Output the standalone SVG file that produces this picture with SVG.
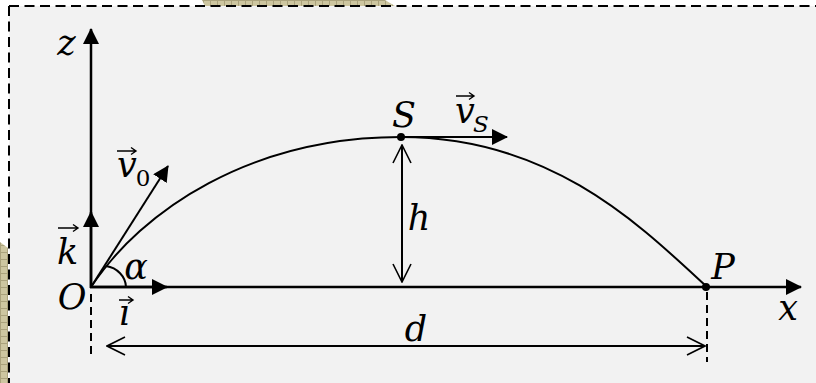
<svg xmlns="http://www.w3.org/2000/svg" width="816" height="383" viewBox="0 0 816 383">
<style>
  .t{font-family:"DejaVu Serif","Liberation Serif",serif;font-style:italic;font-size:35px;fill:#000;text-anchor:middle}
  .sub{font-size:23px}
  .up{font-style:normal}
  .ln{stroke:#000;fill:none;stroke-width:2}
  .ax{stroke:#000;fill:none;stroke-width:2.5}
  .dash{stroke:#000;fill:none;stroke-width:2;stroke-dasharray:8 5}
  .vec{stroke:#000;fill:none;stroke-width:1.4}
</style>
<defs>
  <pattern id="tan" width="7" height="7" patternUnits="userSpaceOnUse">
    <rect width="7" height="7" fill="#cdc6a0"/>
    <path d="M0,0.5H7M0.5,0V7" stroke="#aaa27c" stroke-width="1"/>
  </pattern>
  <marker id="fa" viewBox="0 0 16 16" refX="15" refY="8" markerWidth="16" markerHeight="16" markerUnits="userSpaceOnUse" orient="auto">
    <path d="M0,0 L16,8 L0,16 z" fill="#000"/>
  </marker>
  <marker id="oa" viewBox="0 0 20 20" refX="19" refY="10" markerWidth="20" markerHeight="20" markerUnits="userSpaceOnUse" orient="auto-start-reverse">
    <path d="M1,1 L19,10 L1,19" fill="none" stroke="#000" stroke-width="1.6"/>
  </marker>
</defs>
<rect width="816" height="383" fill="#fff"/>
<polygon points="202,0 385,0 395,6 205,6" fill="url(#tan)"/>
<polygon points="0,242 8,248 8,383 0,383" fill="url(#tan)"/>
<rect x="9" y="6" width="830" height="400" fill="#f2f2f2"/>
<path d="M9,6H816M9,6V383" stroke="#000" stroke-width="2" stroke-dasharray="10 5.5" fill="none"/>

<g id="connectors">
  <line id="z-axis" class="ax" x1="91" y1="288" x2="91" y2="29" marker-end="url(#fa)"/>
  <line id="x-axis" class="ax" x1="90" y1="287" x2="801" y2="287" marker-end="url(#fa)"/>
  <line id="k-vec" class="ax" x1="91" y1="288" x2="91" y2="212" marker-end="url(#fa)"/>
  <line id="i-vec" class="ax" x1="90" y1="287" x2="167" y2="287" marker-end="url(#fa)"/>
  <line id="v0-vec" class="ln" x1="91" y1="287" x2="168" y2="166" marker-end="url(#fa)"/>
  <line id="vS-vec" class="ln" x1="401" y1="137" x2="507" y2="137" marker-end="url(#fa)"/>
  <path id="trajectory" class="ln" d="M91,287 C142,210 251,137 401,137 C551,137 640,225 707,287"/>
  <path id="angle" class="ln" d="M126,287 A24 22 0 0 0 106,266"/>
  <line id="h-dim" class="ln" x1="402" y1="145" x2="402" y2="282" marker-start="url(#oa)" marker-end="url(#oa)" stroke-width="1.6"/>
  <line id="d-dim" class="ln" x1="107" y1="346" x2="705" y2="346" marker-start="url(#oa)" marker-end="url(#oa)" stroke-width="1.6"/>
  <line class="dash" x1="91" y1="294" x2="91" y2="356"/>
  <line class="dash" x1="707" y1="292" x2="707" y2="362"/>
</g>

<g id="S-node">
  <circle cx="401" cy="137" r="4"/>
  <text class="t" x="404" y="127">S</text>
</g>
<g id="P-node">
  <circle cx="706" cy="287" r="4"/>
  <text class="t" x="723" y="279">P</text>
</g>
<g id="O-node"><text class="t" x="72" y="309">O</text></g>
<g id="z-label"><text class="t" x="66.5" y="55">z</text></g>
<g id="x-label"><text class="t" x="788" y="320">x</text></g>
<g id="k-label">
  <text class="t" x="67.5" y="264">k</text>
  <path class="vec" d="M58,228H78M73,224.5L78,228L73,231.5"/>
</g>
<g id="i-label">
  <text class="t" x="124" y="325">ı</text>
  <path class="vec" d="M119,300H133M128,296.5L133,300L128,303.5"/>
</g>
<g id="alpha-label"><text class="t" x="136" y="279">α</text></g>
<g id="v0-label">
  <text class="t" x="127" y="177">v</text>
  <text class="t sub up" x="143" y="186">0</text>
  <path class="vec" d="M117,151H136M131,147.5L136,151L131,154.5"/>
</g>
<g id="vS-label">
  <text class="t" x="465" y="123">v</text>
  <text class="t sub" x="481" y="132">S</text>
  <path class="vec" d="M456,96H474M469,92.5L474,96L469,99.5"/>
</g>
<g id="h-label"><text class="t" x="419" y="230">h</text></g>
<g id="d-label"><text class="t" x="416" y="341">d</text></g>
</svg>
